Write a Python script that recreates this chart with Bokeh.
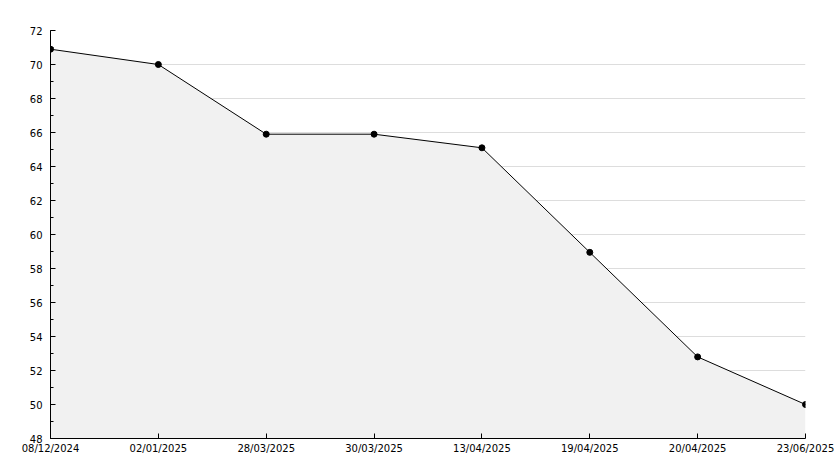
from bokeh.plotting import figure
from bokeh.models import SingleIntervalTicker, FixedTicker, Range1d, ColumnDataSource
from bokeh.embed import file_html
from bokeh.resources import INLINE

dates = ["08/12/2024", "02/01/2025", "28/03/2025", "30/03/2025",
         "13/04/2025", "19/04/2025", "20/04/2025", "23/06/2025"]
values = [70.9, 70.0, 65.9, 65.9, 65.1, 58.95, 52.8, 50.0]
y_min, y_max = 48, 72

xs = list(range(len(dates)))
src = ColumnDataSource(dict(x=xs, y=values, base=[y_min] * len(xs)))

p = figure(width=834, height=460, output_backend="svg", toolbar_location=None,
           x_range=Range1d(0, len(dates) - 1), y_range=Range1d(y_min, y_max),
           min_border_left=50, min_border_right=29, min_border_top=30, min_border_bottom=22)
p.outline_line_color = None
p.background_fill_color = "white"

p.varea(x="x", y1="base", y2="y", source=src, fill_color="#f1f1f1")
p.line(x="x", y="y", source=src, line_color="black", line_width=1)
p.scatter(x="x", y="y", source=src, marker="circle", size=6, fill_color="black", line_color="black")

p.xgrid.grid_line_color = None
p.ygrid.grid_line_color = "#dddddd"
p.ygrid.grid_line_width = 1

p.yaxis.ticker = SingleIntervalTicker(interval=2, num_minor_ticks=2)
p.xaxis.ticker = FixedTicker(ticks=xs)
p.xaxis.major_label_overrides = {i: d for i, d in enumerate(dates)}

for ax in (p.xaxis[0], p.yaxis[0]):
    ax.axis_line_color = "black"
    ax.axis_line_width = 1
    ax.major_tick_in = 5
    ax.major_tick_out = 0
    ax.minor_tick_in = 3
    ax.minor_tick_out = 0
    ax.major_tick_line_color = "black"
    ax.minor_tick_line_color = "black"
    ax.major_label_text_font = "DejaVu Sans"
    ax.major_label_text_font_size = "10px"
    ax.major_label_text_color = "black"
p.xaxis.minor_tick_line_color = None
p.xaxis.major_label_standoff = 4
p.yaxis.major_label_standoff = 8

open("out.html", "w").write(file_html(p, INLINE))
